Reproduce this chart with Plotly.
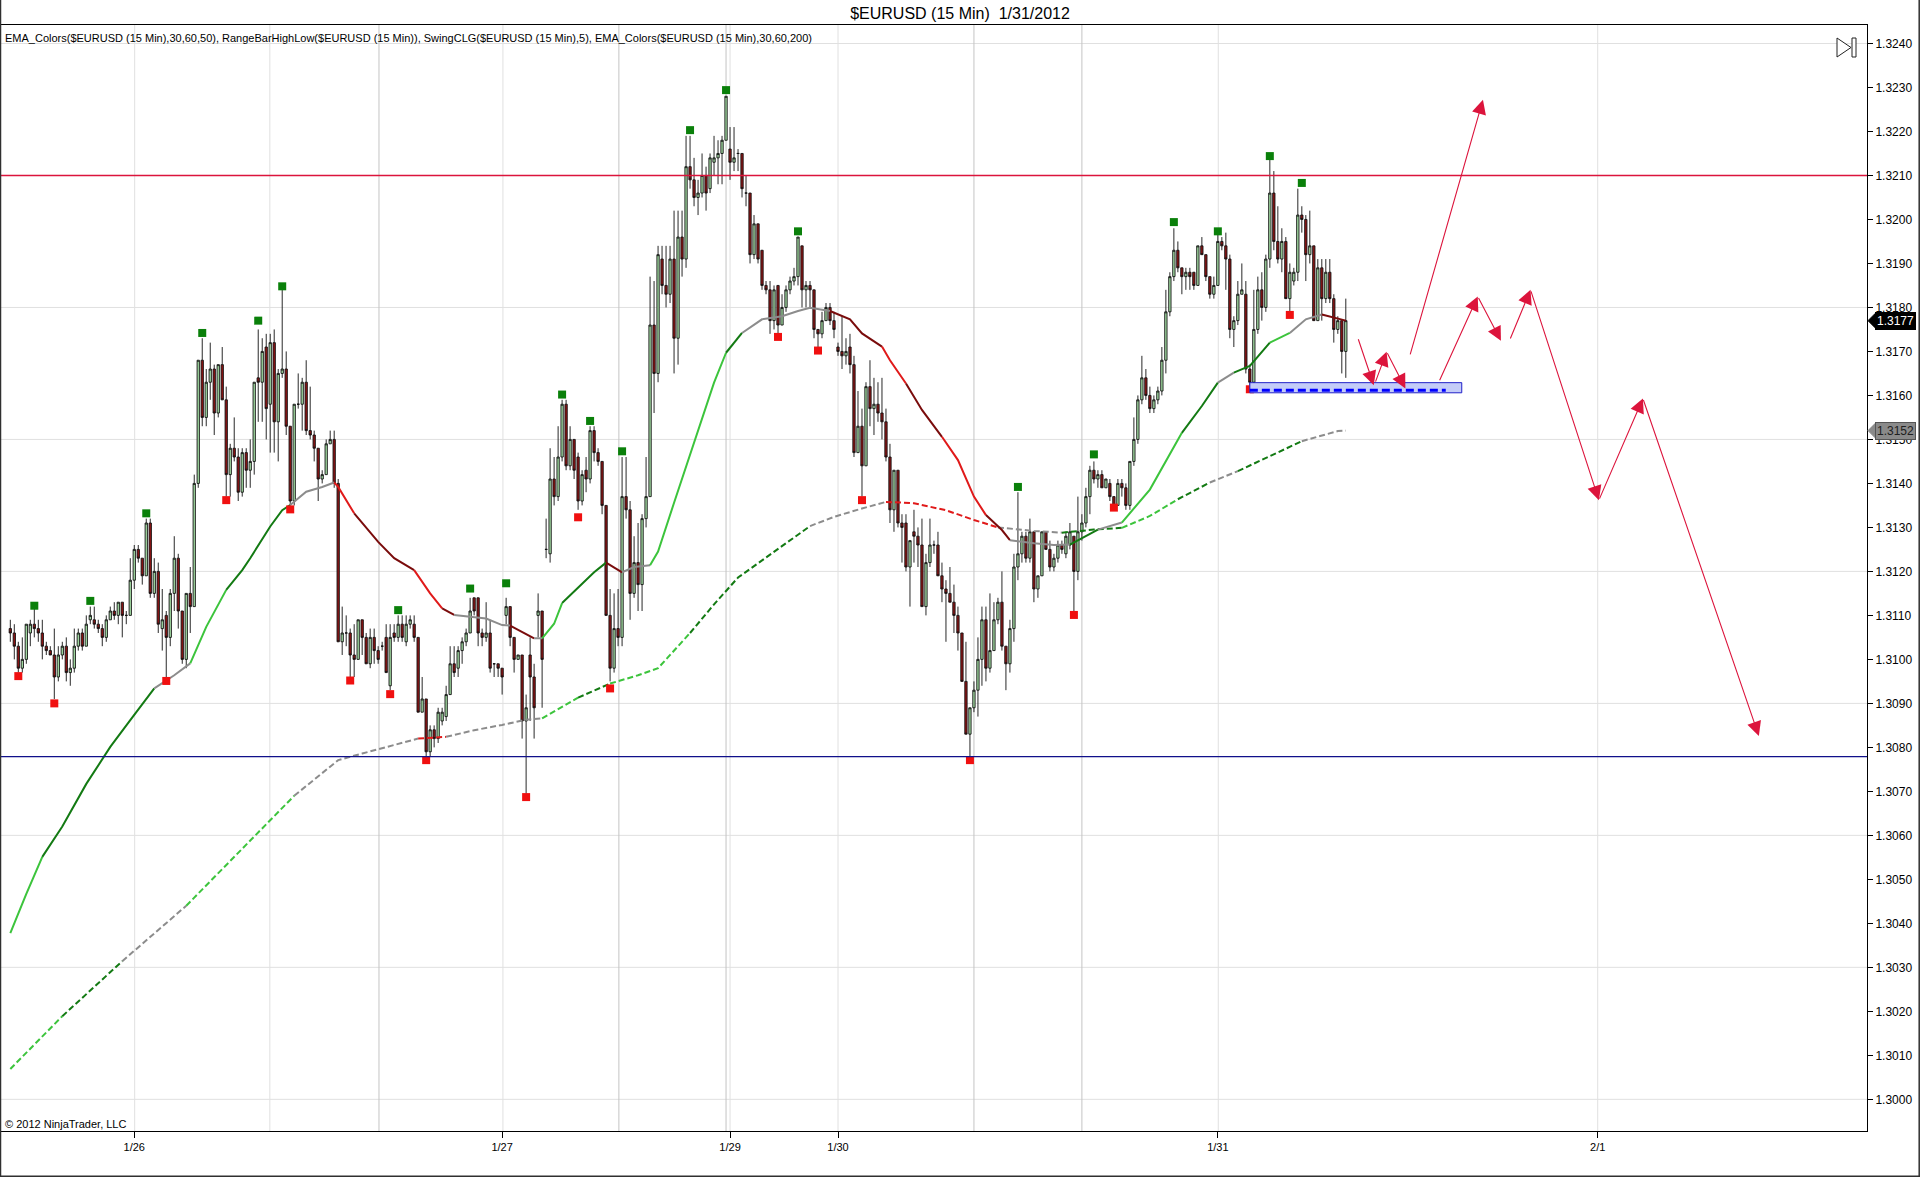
import plotly.graph_objects as go

# ------------------------------------------------------------------ data
# 15-minute candles, bar index 0 .. 334
opens = [
 1.3107,1.3106,1.3103,1.3098,1.3100,1.3106,1.3108,1.3107,1.3106,1.3103,
 1.3102,1.3101,1.3096,1.3101,1.3103,1.3097,1.3098,1.3103,1.3106,1.3103,
 1.3109,1.3109,1.3108,1.3107,1.3105,1.3109,1.3111,1.3110,1.3113,1.3110,
 1.3110,1.3118,1.3125,1.3123,1.3119,1.3131,1.3115,1.3120,1.3107,1.3110,
 1.3105,1.3115,1.3123,1.3111,1.3100,1.3115,1.3112,1.3140,1.3168,1.3155,
 1.3163,1.3166,1.3156,1.3167,1.3159,1.3142,1.3148,1.3146,1.3138,1.3147,
 1.3143,1.3145,1.3164,1.3163,1.3171,1.3158,1.3172,1.3154,1.3165,1.3166,
 1.3153,1.3136,1.3158,1.3158,1.3163,1.3152,1.3151,1.3148,1.3141,1.3142,
 1.3149,1.3150,1.3140,1.3104,1.3106,1.3106,1.3101,1.3100,1.3109,1.3105,
 1.3099,1.3105,1.3102,1.3103,1.3105,1.3094,1.3106,1.3105,1.3108,1.3104,
 1.3108,1.3108,1.3105,1.3088,1.3091,1.3079,1.3084,1.3082,1.3086,1.3087,
 1.3092,1.3099,1.3098,1.3102,1.3104,1.3106,1.3114,1.3114,1.3106,1.3105,
 1.3106,1.3099,1.3099,1.3098,1.3110,1.3112,1.3105,1.3100,1.3101,1.3086,
 1.3101,1.3096,1.3110,1.3111,1.3125,1.3124,1.3141,1.3137,1.3146,1.3158,
 1.3144,1.3150,1.3146,1.3136,1.3143,1.3141,1.3152,1.3147,1.3145,1.3135,
 1.3110,1.3098,1.3107,1.3105,1.3137,1.3134,1.3115,1.3122,1.3117,1.3132,
 1.3137,1.3176,1.3165,1.3191,1.3185,1.3183,1.3191,1.3173,1.3196,1.3191,
 1.3212,1.3209,1.3205,1.3206,1.3210,1.3207,1.3213,1.3214,1.3215,1.3218,
 1.3216,1.3213,1.3215,1.3215,1.3206,1.3206,1.3192,1.3199,1.3193,1.3185,
 1.3184,1.3177,1.3185,1.3176,1.3180,1.3184,1.3186,1.3187,1.3194,1.3184,
 1.3185,1.3184,1.3175,1.3174,1.3177,1.3180,1.3177,1.3171,1.3170,1.3169,
 1.3171,1.3167,1.3147,1.3153,1.3144,1.3162,1.3157,1.3158,1.3156,1.3154,
 1.3146,1.3134,1.3143,1.3131,1.3131,1.3121,1.3129,1.3128,1.3126,1.3112,
 1.3122,1.3126,1.3126,1.3119,1.3116,1.3115,1.3113,1.3110,1.3106,1.3095,
 1.3083,1.3089,1.3093,1.3100,1.3109,1.3098,1.3102,1.3109,1.3113,1.3103,
 1.3099,1.3107,1.3121,1.3124,1.3128,1.3123,1.3129,1.3116,1.3119,1.3129,
 1.3125,1.3121,1.3123,1.3126,1.3124,1.3126,1.3128,1.3120,1.3129,1.3131,
 1.3137,1.3143,1.3141,1.3142,1.3139,1.3140,1.3137,1.3135,1.3140,1.3139,
 1.3135,1.3145,1.3150,1.3159,1.3164,1.3160,1.3157,1.3159,1.3161,1.3168,
 1.3179,1.3187,1.3193,1.3189,1.3187,1.3188,1.3188,1.3185,1.3194,1.3192,
 1.3187,1.3183,1.3185,1.3195,1.3194,1.3191,1.3175,1.3177,1.3183,1.3183,
 1.3166,1.3163,1.3175,1.3184,1.3180,1.3191,1.3206,1.3195,1.3191,1.3195,
 1.3182,1.3186,1.3188,1.3201,1.3200,1.3192,1.3194,1.3177,1.3189,1.3182,
 1.3188,1.3182,1.3175,1.3177,1.3170]

highs = [
 1.3109,1.3108,1.3104,1.3105,1.3108,1.3109,1.3112,1.3109,1.3109,1.3104,
 1.3103,1.3107,1.3103,1.3104,1.3105,1.3100,1.3107,1.3107,1.3107,1.3110,
 1.3112,1.3112,1.3109,1.3108,1.3110,1.3112,1.3113,1.3113,1.3113,1.3111,
 1.3123,1.3126,1.3126,1.3123,1.3132,1.3132,1.3123,1.3122,1.3116,1.3111,
 1.3116,1.3128,1.3124,1.3111,1.3115,1.3121,1.3142,1.3168,1.3173,1.3166,
 1.3172,1.3167,1.3167,1.3171,1.3162,1.3149,1.3155,1.3148,1.3148,1.3148,
 1.3150,1.3163,1.3175,1.3173,1.3174,1.3174,1.3175,1.3166,1.3184,1.3170,
 1.3153,1.3158,1.3165,1.3164,1.3168,1.3162,1.3152,1.3148,1.3143,1.3150,
 1.3152,1.3152,1.3141,1.3112,1.3110,1.3107,1.3108,1.3109,1.3109,1.3106,
 1.3107,1.3107,1.3103,1.3104,1.3108,1.3108,1.3108,1.3110,1.3110,1.3110,
 1.3110,1.3110,1.3105,1.3096,1.3091,1.3085,1.3085,1.3089,1.3089,1.3094,
 1.3103,1.3103,1.3103,1.3105,1.3107,1.3114,1.3114,1.3114,1.3107,1.3113,
 1.3109,1.3099,1.3099,1.3098,1.3114,1.3112,1.3105,1.3101,1.3101,1.3092,
 1.3105,1.3099,1.3115,1.3111,1.3132,1.3148,1.3146,1.3153,1.3159,1.3159,
 1.3153,1.3150,1.3147,1.3143,1.3146,1.3153,1.3153,1.3148,1.3145,1.3135,
 1.3116,1.3115,1.3116,1.3146,1.3146,1.3136,1.3128,1.3131,1.3133,1.3146,
 1.3187,1.3186,1.3194,1.3194,1.3194,1.3194,1.3202,1.3202,1.3202,1.3219,
 1.3219,1.3214,1.3209,1.3215,1.3212,1.3215,1.3219,1.3218,1.3219,1.3228,
 1.3221,1.3221,1.3216,1.3215,1.3210,1.3206,1.3201,1.3199,1.3193,1.3186,
 1.3186,1.3185,1.3185,1.3183,1.3185,1.3187,1.3189,1.3196,1.3194,1.3186,
 1.3186,1.3184,1.3175,1.3179,1.3181,1.3181,1.3179,1.3172,1.3178,1.3173,
 1.3174,1.3169,1.3161,1.3157,1.3163,1.3168,1.3164,1.3163,1.3164,1.3157,
 1.3149,1.3143,1.3143,1.3133,1.3133,1.3127,1.3134,1.3130,1.3132,1.3124,
 1.3132,1.3127,1.3129,1.3122,1.3118,1.3121,1.3117,1.3112,1.3106,1.3104,
 1.3089,1.3095,1.3105,1.3112,1.3112,1.3115,1.3113,1.3114,1.3120,1.3103,
 1.3109,1.3124,1.3138,1.3129,1.3129,1.3132,1.3129,1.3119,1.3129,1.3129,
 1.3127,1.3124,1.3127,1.3127,1.3129,1.3131,1.3128,1.3137,1.3133,1.3139,
 1.3144,1.3145,1.3143,1.3143,1.3141,1.3141,1.3137,1.3141,1.3141,1.3140,
 1.3145,1.3155,1.3160,1.3169,1.3166,1.3162,1.3160,1.3162,1.3171,1.3184,
 1.3188,1.3198,1.3195,1.3189,1.3189,1.3189,1.3188,1.3194,1.3196,1.3192,
 1.3187,1.3187,1.3198,1.3196,1.3197,1.3192,1.3178,1.3186,1.3190,1.3186,
 1.3167,1.3184,1.3187,1.3188,1.3192,1.3214,1.3211,1.3203,1.3198,1.3196,
 1.3190,1.3189,1.3207,1.3203,1.3201,1.3202,1.3194,1.3191,1.3191,1.3191,
 1.3191,1.3183,1.3178,1.3177,1.3182]

lows = [
 1.3104,1.3100,1.3097,1.3097,1.3099,1.3103,1.3105,1.3104,1.3100,1.3101,
 1.3101,1.3091,1.3095,1.3100,1.3095,1.3094,1.3097,1.3102,1.3102,1.3103,
 1.3108,1.3107,1.3106,1.3103,1.3104,1.3109,1.3109,1.3108,1.3105,1.3108,
 1.3110,1.3116,1.3122,1.3117,1.3119,1.3114,1.3114,1.3106,1.3102,1.3095,
 1.3103,1.3111,1.3107,1.3099,1.3098,1.3106,1.3112,1.3139,1.3153,1.3153,
 1.3159,1.3151,1.3155,1.3159,1.3137,1.3137,1.3145,1.3136,1.3137,1.3139,
 1.3139,1.3142,1.3154,1.3154,1.3150,1.3147,1.3147,1.3145,1.3164,1.3151,
 1.3135,1.3135,1.3157,1.3152,1.3151,1.3150,1.3145,1.3136,1.3140,1.3142,
 1.3149,1.3139,1.3104,1.3101,1.3103,1.3096,1.3096,1.3100,1.3101,1.3099,
 1.3098,1.3099,1.3099,1.3102,1.3097,1.3093,1.3104,1.3104,1.3104,1.3103,
 1.3107,1.3104,1.3088,1.3088,1.3078,1.3078,1.3080,1.3081,1.3085,1.3086,
 1.3092,1.3096,1.3096,1.3099,1.3103,1.3106,1.3110,1.3103,1.3103,1.3104,
 1.3097,1.3096,1.3096,1.3092,1.3108,1.3103,1.3097,1.3100,1.3082,1.3069,
 1.3086,1.3082,1.3105,1.3089,1.3123,1.3122,1.3135,1.3136,1.3145,1.3143,
 1.3143,1.3141,1.3134,1.3135,1.3138,1.3140,1.3145,1.3144,1.3133,1.3110,
 1.3095,1.3097,1.3103,1.3103,1.3132,1.3109,1.3114,1.3111,1.3111,1.3130,
 1.3137,1.3156,1.3163,1.3183,1.3180,1.3181,1.3165,1.3167,1.3187,1.3189,
 1.3207,1.3203,1.3201,1.3205,1.3202,1.3206,1.3210,1.3208,1.3208,1.3218,
 1.3209,1.3211,1.3211,1.3205,1.3203,1.3190,1.3191,1.3190,1.3184,1.3183,
 1.3174,1.3175,1.3174,1.3176,1.3179,1.3183,1.3185,1.3185,1.3180,1.3180,
 1.3180,1.3173,1.3171,1.3173,1.3177,1.3176,1.3173,1.3169,1.3166,1.3167,
 1.3165,1.3146,1.3147,1.3137,1.3144,1.3153,1.3151,1.3154,1.3150,1.3145,
 1.3131,1.3129,1.3130,1.3122,1.3120,1.3112,1.3122,1.3121,1.3112,1.3110,
 1.3121,1.3124,1.3119,1.3113,1.3104,1.3113,1.3106,1.3102,1.3095,1.3083,
 1.3078,1.3088,1.3087,1.3094,1.3095,1.3097,1.3102,1.3108,1.3102,1.3093,
 1.3097,1.3104,1.3118,1.3122,1.3122,1.3122,1.3113,1.3114,1.3119,1.3125,
 1.3120,1.3120,1.3122,1.3124,1.3123,1.3125,1.3111,1.3118,1.3127,1.3130,
 1.3133,1.3140,1.3139,1.3139,1.3139,1.3136,1.3135,1.3135,1.3137,1.3134,
 1.3134,1.3144,1.3149,1.3158,1.3159,1.3156,1.3156,1.3158,1.3160,1.3165,
 1.3178,1.3186,1.3188,1.3183,1.3184,1.3184,1.3184,1.3185,1.3192,1.3186,
 1.3182,1.3182,1.3185,1.3193,1.3184,1.3173,1.3171,1.3176,1.3183,1.3165,
 1.3162,1.3162,1.3174,1.3177,1.3179,1.3189,1.3193,1.3190,1.3188,1.3182,
 1.3179,1.3185,1.3186,1.3197,1.3186,1.3190,1.3177,1.3177,1.3177,1.3181,
 1.3181,1.3172,1.3174,1.3165,1.3164]

closes = [
 1.3106,1.3103,1.3098,1.3100,1.3108,1.3108,1.3107,1.3106,1.3103,1.3102,
 1.3101,1.3096,1.3101,1.3103,1.3097,1.3098,1.3103,1.3106,1.3103,1.3108,
 1.3110,1.3108,1.3107,1.3105,1.3109,1.3111,1.3110,1.3113,1.3110,1.3110,
 1.3118,1.3125,1.3123,1.3119,1.3131,1.3115,1.3120,1.3108,1.3109,1.3105,
 1.3115,1.3123,1.3111,1.3100,1.3115,1.3112,1.3140,1.3168,1.3155,1.3163,
 1.3166,1.3156,1.3167,1.3159,1.3142,1.3148,1.3146,1.3138,1.3147,1.3143,
 1.3145,1.3163,1.3163,1.3170,1.3157,1.3172,1.3154,1.3165,1.3166,1.3153,
 1.3136,1.3158,1.3158,1.3163,1.3152,1.3151,1.3148,1.3141,1.3142,1.3149,
 1.3150,1.3140,1.3104,1.3106,1.3106,1.3101,1.3100,1.3109,1.3105,1.3099,
 1.3105,1.3102,1.3100,1.3103,1.3097,1.3105,1.3105,1.3108,1.3105,1.3108,
 1.3109,1.3105,1.3088,1.3091,1.3079,1.3084,1.3082,1.3088,1.3088,1.3092,
 1.3099,1.3097,1.3102,1.3104,1.3106,1.3111,1.3111,1.3106,1.3105,1.3106,
 1.3098,1.3099,1.3098,1.3096,1.3112,1.3105,1.3100,1.3101,1.3086,1.3089,
 1.3096,1.3089,1.3111,1.3100,1.3125,1.3141,1.3137,1.3146,1.3158,1.3144,
 1.3150,1.3143,1.3136,1.3142,1.3141,1.3152,1.3147,1.3145,1.3135,1.3110,
 1.3098,1.3107,1.3105,1.3137,1.3134,1.3115,1.3122,1.3117,1.3132,1.3137,
 1.3176,1.3165,1.3192,1.3185,1.3183,1.3191,1.3173,1.3196,1.3191,1.3212,
 1.3209,1.3205,1.3206,1.3210,1.3206,1.3214,1.3214,1.3215,1.3218,1.3228,
 1.3213,1.3214,1.3215,1.3207,1.3206,1.3192,1.3199,1.3191,1.3185,1.3184,
 1.3177,1.3184,1.3176,1.3180,1.3184,1.3186,1.3187,1.3196,1.3184,1.3185,
 1.3184,1.3175,1.3174,1.3177,1.3180,1.3177,1.3175,1.3170,1.3169,1.3170,
 1.3167,1.3147,1.3153,1.3144,1.3162,1.3157,1.3158,1.3156,1.3154,1.3146,
 1.3134,1.3143,1.3131,1.3130,1.3121,1.3127,1.3128,1.3126,1.3112,1.3122,
 1.3126,1.3126,1.3119,1.3116,1.3115,1.3113,1.3110,1.3106,1.3095,1.3083,
 1.3089,1.3093,1.3100,1.3109,1.3098,1.3102,1.3109,1.3113,1.3103,1.3099,
 1.3107,1.3121,1.3124,1.3128,1.3123,1.3129,1.3116,1.3119,1.3129,1.3125,
 1.3121,1.3123,1.3126,1.3125,1.3128,1.3129,1.3120,1.3129,1.3131,1.3137,
 1.3143,1.3141,1.3142,1.3139,1.3141,1.3137,1.3135,1.3140,1.3139,1.3135,
 1.3145,1.3150,1.3159,1.3164,1.3160,1.3157,1.3159,1.3161,1.3168,1.3179,
 1.3187,1.3193,1.3189,1.3187,1.3188,1.3187,1.3185,1.3194,1.3192,1.3187,
 1.3183,1.3185,1.3195,1.3194,1.3191,1.3175,1.3177,1.3183,1.3184,1.3166,
 1.3163,1.3175,1.3184,1.3180,1.3191,1.3206,1.3195,1.3191,1.3195,1.3182,
 1.3188,1.3188,1.3201,1.3200,1.3192,1.3194,1.3177,1.3189,1.3182,1.3188,
 1.3182,1.3175,1.3177,1.3170,1.3177]

# EMA(50) read at sample bars; colour code per segment
ema50_bars = [0,4,8,13,19,25,30,36,41,45,49,54,58,60,65,68,70,74,78,81,
              82,86,92,96,101,105,108,111,116,119,123,125,129,131,133,136,138,142,146,149,
              153,156,160,162,166,171,176,179,183,188,193,197,200,205,210,213,218,220,224,228,
              233,237,241,244,248,250,256,261,265,272,278,285,293,298,302,306,310,315,320,324,
              328,331,334]
ema50_vals = [1.30378,1.30467,1.30551,1.30620,1.30717,1.30801,1.30862,1.30934,1.30964,1.30991,
              1.31074,1.31158,1.31203,1.31230,1.31302,1.31339,1.31351,1.31381,1.31392,1.31402,
              1.31392,1.31332,1.31267,1.31230,1.31203,1.31150,1.31116,1.31101,1.31097,1.31093,
              1.31078,1.31077,1.31058,1.31048,1.31048,1.31081,1.31128,1.31163,1.31198,1.31220,
              1.31198,1.31210,1.31214,1.31245,1.31356,1.31492,1.31629,1.31697,1.31742,1.31773,
              1.31780,1.31792,1.31799,1.31792,1.31773,1.31741,1.31711,1.31680,1.31627,1.31567,
              1.31506,1.31453,1.31370,1.31328,1.31294,1.31271,1.31264,1.31260,1.31261,1.31295,
              1.31311,1.31386,1.31515,1.31576,1.31629,1.31652,1.31667,1.31720,1.31742,1.31773,
              1.31784,1.31777,1.31770]
ema50_codes = list("LLGGGGGYYLLGGGGGYYYRRDDDRRDYYYYDDYLLGGGDYYLLLLLGYYYYYDDDRRDDRRRDDYYYGYLLGGYGGLYYDD")

# EMA(200) read at sample bars
ema200_bars = [0,13,28,44,59,71,76,82,88,96,102,109,116,123,129,133,142,150,157,162,
               170,176,182,200,206,213,219,226,234,241,247,256,263,271,278,285,292,300,307,315,
               323,332,334]
ema200_vals = [1.30069,1.30189,1.30314,1.30440,1.30578,1.30690,1.30726,1.30771,1.30786,1.30805,
               1.30820,1.30824,1.30839,1.30851,1.30863,1.30866,1.30913,1.30945,1.30964,1.30980,
               1.31060,1.31125,1.31186,1.31303,1.31324,1.31343,1.31358,1.31355,1.31339,1.31317,
               1.31300,1.31292,1.31288,1.31295,1.31299,1.31326,1.31364,1.31402,1.31428,1.31462,
               1.31496,1.31519,1.31520]
ema200_codes = list("LGYLLYYYYYRYYYYLGLLLGGGYYYRRRRYYGGLLGYGGYY")

# swing points (SwingCLG)
swing_high_bars = [6,20,34,48,62,68,97,115,124,138,145,153,170,179,197,252,271,291,302,315,323]
swing_high_vals = [1.31122,1.31133,1.31332,1.31742,1.31770,1.31848,1.31112,1.31161,1.31173,1.31602,
                   1.31542,1.31473,1.32203,1.32294,1.31973,1.31392,1.31466,1.31994,1.31973,1.32144,1.32083]
swing_low_bars = [2,11,39,54,70,85,95,104,129,142,150,192,202,213,240,266,276,310,320]
swing_low_vals = [1.30962,1.30900,1.30951,1.31362,1.31341,1.30952,1.30921,1.30771,1.30687,1.31323,
                  1.30934,1.31733,1.31702,1.31362,1.30771,1.31101,1.31345,1.31614,1.31783]

# horizontal levels
resistance_level = 1.3210
support_level = 1.30779

# zone box and range-bar line
zone_start_bar, zone_end_bar = 310, 363
zone_low, zone_high = 1.31606, 1.31629
rangebar_level = 1.31612
rangebar_end_bar = 359

# projection arrows (tail -> head)
arrow_from_bar = [337.0, 341.3, 344.2, 350.0, 357.3, 367.0, 375.0, 380.2, 397.3, 408.3]
arrow_from_val = [1.31731, 1.31628, 1.31699, 1.31690, 1.31631, 1.31825, 1.31726, 1.31840, 1.31362, 1.31593]
arrow_to_bar = [341.0, 344.2, 348.9, 368.3, 367.0, 372.8, 380.2, 397.3, 408.3, 437.3]
arrow_to_val = [1.31623, 1.31699, 1.31616, 1.32272, 1.31825, 1.31724, 1.31840, 1.31362, 1.31593, 1.30826]

# date axis
date_tick_bars = [31, 123, 180, 207, 302, 397]
date_tick_labels = ["1/26", "1/27", "1/29", "1/30", "1/31", "2/1"]
vgrid_bars = [31.1, 64.9, 92.2, 123.2, 152.2, 179.0, 180.0, 207.0, 241.0, 268.0, 302.1, 397.0]
vgrid_dark = [False, False, True, False, True, True, False, False, True, True, False, False]
hgrid_levels = [1.3000, 1.3030, 1.3060, 1.3090, 1.3120, 1.3150, 1.3180, 1.3210, 1.3240]

last_price = 1.3177
last_ema200 = 1.3152

# ------------------------------------------------------------------ layout geometry
W, H = 1920, 1177
ML, MR, MT, MB = 1, 53, 25, 46
PW = W - ML - MR
PH = H - MT - MB
X_RANGE = [-2.33, 464.35]
Y_RANGE = [1.29928, 1.32442]
FONT = "Liberation Sans, Arial, sans-serif"

def pxx(px):
    return (px - ML) / PW

def pxy(py):
    return (H - MB - py) / PH

COL = {"L": "#3cc43c", "G": "#137a13", "Y": "#8c8c8c", "R": "#e01a1a", "D": "#7a0c0c"}

bars = list(range(len(closes)))
fig = go.Figure()

# candles
fig.add_trace(go.Candlestick(
    x=bars, open=opens, high=highs, low=lows, close=closes,
    increasing=dict(line=dict(color="#111111", width=0.9), fillcolor="#a6e0a6"),
    decreasing=dict(line=dict(color="#111111", width=0.9), fillcolor="#8e1414"),
    whiskerwidth=0, hoverinfo="skip", showlegend=False))


def add_colored(bx, vals, codes, width, dash):
    n = len(codes)
    i = 0
    while i < n:
        j = i
        while j + 1 < n and codes[j + 1] == codes[i]:
            j += 1
        fig.add_trace(go.Scatter(
            x=bx[i:j + 2], y=vals[i:j + 2], mode="lines",
            line=dict(color=COL[codes[i]], width=width, dash=dash),
            hoverinfo="skip", showlegend=False))
        i = j + 1

add_colored(ema200_bars, ema200_vals, ema200_codes, 2, "6px,3px")
add_colored(ema50_bars, ema50_vals, ema50_codes, 2, "solid")

# swing dots
fig.add_trace(go.Scatter(x=swing_high_bars, y=swing_high_vals, mode="markers",
                         marker=dict(symbol="square", size=8, color="#0a800a"),
                         hoverinfo="skip", showlegend=False))
fig.add_trace(go.Scatter(x=swing_low_bars, y=swing_low_vals, mode="markers",
                         marker=dict(symbol="square", size=8, color="#f01010"),
                         hoverinfo="skip", showlegend=False))

shapes = []
for lv in hgrid_levels:
    shapes.append(dict(type="line", xref="paper", yref="y", x0=0, x1=1, y0=lv, y1=lv,
                       line=dict(color="#e0e0e0", width=1), layer="below"))
for b, dk in zip(vgrid_bars, vgrid_dark):
    shapes.append(dict(type="line", xref="x", yref="paper", x0=b, x1=b, y0=0, y1=1,
                       line=dict(color="#c4c4c4" if dk else "#e0e0e0", width=1), layer="below"))
# horizontal levels
shapes.append(dict(type="line", xref="paper", yref="y", x0=0, x1=1,
                   y0=resistance_level, y1=resistance_level,
                   line=dict(color="#dc143c", width=1.6)))
shapes.append(dict(type="line", xref="paper", yref="y", x0=0, x1=1,
                   y0=support_level, y1=support_level,
                   line=dict(color="#10108a", width=1.2)))
# zone box
shapes.append(dict(type="rect", xref="x", yref="y", x0=zone_start_bar, x1=zone_end_bar,
                   y0=zone_low, y1=zone_high, fillcolor="#c4ccf8",
                   line=dict(color="#2020c8", width=1)))
shapes.append(dict(type="line", xref="x", yref="y", x0=zone_start_bar, x1=rangebar_end_bar,
                   y0=rangebar_level, y1=rangebar_level,
                   line=dict(color="#0000ff", width=3, dash="8px,4px")))

# price tags pointers
dy = 7.0 / PH * (Y_RANGE[1] - Y_RANGE[0])
for val, col in [(last_price, "black"), (last_ema200, "#8a8a8a")]:
    shapes.append(dict(type="path", xref="paper", yref="y",
                       path=f"M {pxx(1868)},{val} L {pxx(1875)},{val + dy} L {pxx(1875)},{val - dy} Z",
                       fillcolor=col, line=dict(color=col, width=1)))

# scroll-to-end icon
shapes.append(dict(type="path", xref="paper", yref="paper",
                   path=f"M {pxx(1837)},{pxy(38)} L {pxx(1837)},{pxy(57)} L {pxx(1851)},{pxy(47.5)} Z",
                   fillcolor="white", line=dict(color="#222222", width=1)))
shapes.append(dict(type="rect", xref="paper", yref="paper",
                   x0=pxx(1852), x1=pxx(1856), y0=pxy(57), y1=pxy(38),
                   fillcolor="white", line=dict(color="#222222", width=1)))

# outer frame (left, bottom, right)
for x0, y0, x1, y1 in [(0.5, 0, 0.5, H - 0.5), (0, H - 0.8, W, H - 0.8), (W - 0.8, 0, W - 0.8, H)]:
    shapes.append(dict(type="line", xref="paper", yref="paper",
                       x0=pxx(x0), x1=pxx(x1), y0=pxy(y0), y1=pxy(y1),
                       line=dict(color="#303030", width=1.5)))

annotations = []
for fb, fv, tb, tv in zip(arrow_from_bar, arrow_from_val, arrow_to_bar, arrow_to_val):
    annotations.append(dict(x=tb, y=tv, ax=fb, ay=fv, xref="x", yref="y", axref="x", ayref="y",
                            text="", showarrow=True, arrowhead=2, arrowsize=2.6,
                            arrowwidth=1.1, arrowcolor="#dc143c", standoff=0))

annotations.append(dict(x=pxx(3), y=pxy(38), xref="paper", yref="paper", xanchor="left",
                        yanchor="middle", showarrow=False,
                        text="EMA_Colors($EURUSD (15 Min),30,60,50), RangeBarHighLow($EURUSD (15 Min)), "
                             "SwingCLG($EURUSD (15 Min),5), EMA_Colors($EURUSD (15 Min),30,60,200)",
                        font=dict(family=FONT, size=11, color="black")))
annotations.append(dict(x=pxx(3), y=pxy(1124), xref="paper", yref="paper", xanchor="left",
                        yanchor="middle", showarrow=False, text="© 2012 NinjaTrader, LLC",
                        font=dict(family=FONT, size=11, color="black")))
annotations.append(dict(x=pxx(1875), y=last_price, xref="paper", yref="y", xanchor="left",
                        yanchor="middle", showarrow=False, text=f"{last_price:.4f}",
                        bgcolor="black", bordercolor="black", borderpad=1,
                        font=dict(family=FONT, size=12, color="white")))
annotations.append(dict(x=pxx(1875), y=last_ema200, xref="paper", yref="y", xanchor="left",
                        yanchor="middle", showarrow=False, text=f"{last_ema200:.4f}",
                        bgcolor="#8a8a8a", bordercolor="#555555", borderpad=1,
                        font=dict(family=FONT, size=12, color="#202020")))

fig.update_layout(
    width=W, height=H,
    margin=dict(l=ML, r=MR, t=MT, b=MB),
    paper_bgcolor="white", plot_bgcolor="white",
    showlegend=False, boxgap=0.18,
    title=dict(text="$EURUSD (15 Min) &nbsp;1/31/2012", x=0.5, xref="container", xanchor="center",
               y=1 - 13.5 / H, yref="container", yanchor="middle",
               font=dict(family=FONT, size=16, color="black")),
    font=dict(family=FONT, color="black"),
    shapes=shapes, annotations=annotations,
    xaxis=dict(range=X_RANGE, showgrid=False, zeroline=False, showline=True, mirror=True,
               linecolor="black", linewidth=1, ticks="outside", ticklen=6, tickcolor="black",
               tickvals=date_tick_bars, ticktext=date_tick_labels,
               tickfont=dict(family=FONT, size=11, color="black"),
               rangeslider=dict(visible=False), fixedrange=True),
    yaxis=dict(range=Y_RANGE, side="right", showgrid=False, zeroline=False, showline=True,
               mirror=True, linecolor="black", linewidth=1, ticks="outside", ticklen=5,
               tickcolor="black", dtick=0.001, tick0=1.3, tickformat=".4f",
               tickfont=dict(family=FONT, size=12, color="black"), fixedrange=True),
)

fig.write_html(
    "out.html",
    config={"displayModeBar": False, "staticPlot": True},
    post_script="document.body.style.margin='0';document.body.style.padding='0';"
                "document.body.style.overflow='hidden';",
)
